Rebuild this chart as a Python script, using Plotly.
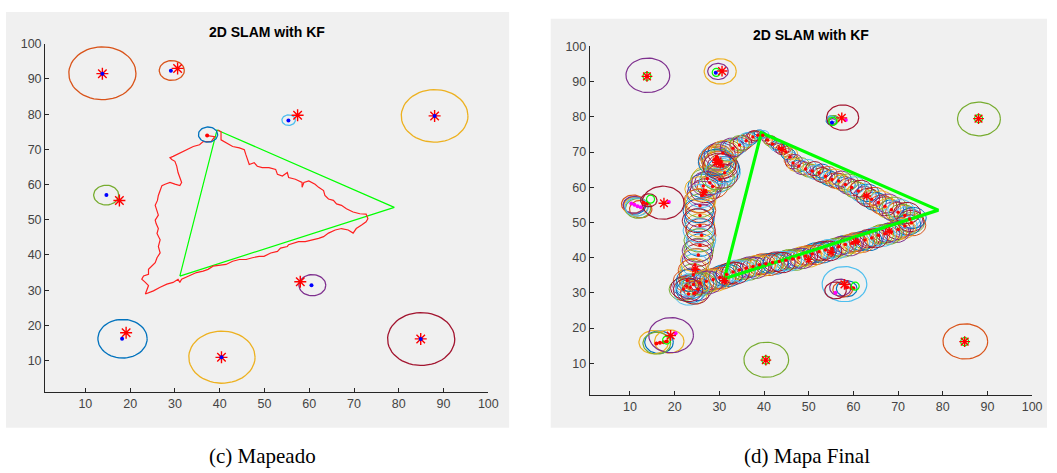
import numpy as np
import plotly.graph_objects as go

# ---------------- data ----------------
ticks = [10, 20, 30, 40, 50, 60, 70, 80, 90, 100]

# true trajectory (triangle)
tri_x = [31.1, 39.4, 79.0, 31.1]
tri_y = [34.0, 75.5, 53.5, 34.0]

# true landmarks (red asterisks)
lm_x = [13.8, 30.6, 57.4, 88.0, 17.6, 58.0, 19.1, 40.4, 84.9]
lm_y = [91.5, 93.0, 79.7, 79.5, 55.45, 32.4, 17.9, 10.9, 16.15]

# ---- panel (c) Mapeado ----
est_x = [13.8, 29.1, 55.35, 88.0, 14.7, 60.5, 18.2, 40.4, 84.9]
est_y = [91.5, 92.3, 78.2, 79.5, 57.0, 31.4, 16.2, 10.9, 16.15]

ellc_x = [37.4, 13.8, 29.3, 55.4, 88.0, 14.65, 60.7, 18.3, 40.5, 85.0]
ellc_y = [74.2, 91.6, 92.4, 78.3, 79.5, 57.0, 31.4, 16.2, 10.95, 16.1]
ellc_r = [2.15, 7.5, 2.8, 1.5, 7.45, 2.8, 3.0, 5.5, 7.4, 7.5]
ellc_c = ['blue', 'orange', 'orange', 'lightblue', 'yellow', 'green', 'purple', 'blue', 'yellow', 'darkred']

robot_x = [37.2]
robot_y = [73.9]

pathc_x = [39.6, 40.3, 40.3, 41.4, 42.9, 44.4, 45.5, 45.85, 46.2, 46.6, 47.7, 48.4, 49.5, 51.0, 52.5,
           52.9, 54.0, 55.1, 55.4, 56.9, 58.4, 58.4, 58.8, 59.9, 61.3, 62.1, 63.2, 63.5, 64.3, 65.4,
           66.1, 67.2, 68.3, 69.8, 71.3, 72.7, 73.1,
           72.7, 71.7, 70.5, 69.8, 68.7, 67.2, 65.8, 64.3, 63.2, 62.1, 60.6, 59.1, 57.6, 56.5, 55.4,
           55.1, 53.6, 52.9, 51.4, 49.9, 48.8, 47.3, 45.9, 44.4, 42.9, 41.4, 40.0, 38.5, 37.4, 36.3,
           34.8, 33.0, 31.5, 31.1, 30.7, 29.6, 28.2, 26.7, 25.2, 23.4,
           23.7, 24.1, 23.4, 22.6, 23.0, 24.1, 24.1, 24.8, 25.6, 26.0, 26.7, 26.3, 26.7, 26.0, 26.3,
           25.8, 25.6, 26.3, 26.0, 25.6, 26.1, 26.3, 26.7, 27.1, 27.8, 28.9, 30.0, 31.1, 31.5, 31.1,
           30.7, 30.4, 30.0, 29.3, 28.9, 29.6, 31.1, 32.6, 34.1, 35.5, 36.3, 38.1, 38.9, 37.2]
pathc_y = [75.5, 75.0, 72.7, 71.8, 70.8, 70.4, 69.9, 68.5, 67.1, 65.7, 66.2, 65.2, 64.8, 64.8, 64.3,
           62.9, 62.4, 63.4, 62.0, 61.5, 60.6, 59.2, 60.6, 61.05, 60.1, 59.2, 58.3, 56.9, 55.9, 55.5,
           54.5, 54.1, 53.1, 52.2, 51.7, 51.6, 50.3,
           49.4, 48.5, 47.5, 46.2, 47.1, 47.5, 47.1, 46.2, 45.2, 44.7, 44.3, 43.8, 43.8, 43.4, 42.9,
           42.4, 41.95, 41.0, 40.55, 39.6, 39.6, 39.2, 38.7, 38.7, 38.2, 37.3, 37.0, 36.8, 35.9, 35.4,
           35.0, 34.0, 33.1, 32.2, 33.1, 32.2, 31.7, 30.8, 29.8, 28.9,
           29.8, 31.3, 32.2, 33.1, 34.0, 34.5, 35.9, 36.8, 37.8, 39.2, 40.6, 42.4, 44.3, 46.1, 47.5,
           48.9, 49.9, 51.3, 52.7, 54.1, 55.5, 56.9, 58.3, 59.7, 60.1, 60.6, 60.1, 59.7, 60.6, 62.0,
           63.4, 65.25, 66.6, 67.1, 67.6, 68.0, 69.0, 69.9, 70.8, 71.3, 72.2, 72.2, 73.6, 73.9]

# ---- panel (d) Mapa Final ----
# robot pose covariance ellipses along the estimated path (pass 1)
pathd_x = [39.7, 40.8, 41.9, 43.4, 44.9, 45.8, 46.5, 47.8, 49.3, 50.8, 52.3, 53.75, 55.2, 56.7, 58.2,
           59.65, 61.1, 62.6, 64.1, 65.6, 67.05, 68.5, 70.0, 71.5, 72.6, 73.0,
           71.5, 70.0, 68.5, 67.05, 65.6, 64.1, 62.6, 61.1, 59.65, 58.2, 56.7, 55.2, 53.75, 52.3, 50.8,
           49.3, 47.8, 46.4, 44.9, 43.4, 41.9, 40.4, 38.97, 37.5, 36.0, 34.5, 33.05, 31.6, 30.1, 28.6,
           27.1, 25.66, 24.2, 22.7, 21.97, 23.1, 24.55, 23.5, 22.8, 24.3, 25.2,
           24.18, 24.55, 25.29, 25.66, 26.03, 25.66, 25.66, 25.66, 26.03, 26.9, 26.4, 28.5, 27.3, 27.88,
           30.1, 31.2, 30.8, 29.7, 28.8, 29.9, 29.2, 30.3, 29.4, 30.8, 33.05, 34.5, 36.0, 37.5, 38.6]
pathd_y = [74.8, 73.4, 72.3, 71.1, 70.1, 68.6, 66.9, 66.0, 65.2, 64.6, 64.1, 63.15, 62.2, 61.75, 60.8,
           59.9, 58.95, 57.7, 56.6, 55.7, 54.6, 53.6, 52.9, 52.0, 51.0, 49.9,
           49.0, 48.0, 47.3, 46.8, 46.4, 45.6, 45.0, 44.5, 44.1, 43.75, 43.1, 42.6, 42.2, 41.7, 41.05,
           40.5, 40.0, 39.6, 39.3, 38.9, 38.6, 38.3, 37.97, 37.5, 37.0, 36.5, 35.9, 35.2, 34.4, 33.8,
           33.3, 32.8, 32.4, 31.9, 31.0, 29.7, 30.0, 31.5, 33.5, 29.8, 31.0,
           35.17, 37.96, 40.76, 43.56, 46.36, 49.16, 51.96, 54.76, 57.55, 59.0, 60.35, 60.2, 62.5, 61.29,
           62.2, 64.1, 66.0, 67.3, 67.8, 66.6, 68.2, 67.2, 68.7, 69.7, 71.1, 72.0, 73.2, 74.3, 74.8]
pathd_r = [0.9, 1.1, 1.2, 1.4, 1.5, 1.5, 1.7, 1.7, 1.8, 1.9, 2.0, 2.1, 2.1, 2.2, 2.2,
           2.3, 2.4, 2.5, 2.5, 2.6, 2.7, 2.8, 2.8, 2.9, 2.9, 2.9,
           2.8, 2.8, 2.7, 2.7, 2.6, 2.6, 2.6, 2.6, 2.6, 2.6, 2.6, 2.6, 2.6, 2.6, 2.7,
           2.7, 2.7, 2.7, 2.7, 2.7, 2.7, 2.7, 2.8, 2.8, 2.8, 2.8, 2.9, 2.9, 3.0, 3.0,
           3.0, 3.1, 3.1, 3.1, 3.2, 3.2, 3.2, 3.2, 3.1, 3.0, 3.2,
           3.1, 3.1, 3.2, 3.2, 3.2, 3.3, 3.3, 3.3, 3.3, 3.4, 3.4, 3.4, 3.5, 3.4,
           3.4, 3.5, 3.5, 3.6, 3.5, 3.7, 3.4, 3.6, 3.6, 3.4, 2.5, 2.2, 2.0, 1.6, 1.2]

# pass 2 (in-between time steps)
pathd2_x = [40.2, 41.3, 42.6, 44.1, 45.4, 46.2, 47.1, 48.5, 50.0, 51.5, 53.0, 54.5, 56.0, 57.4, 58.9,
            60.4, 61.8, 63.3, 64.8, 66.3, 67.8, 69.2, 70.8, 72.0, 72.8,
            72.2, 70.7, 69.2, 67.7, 66.3, 64.8, 63.3, 61.8, 60.4, 58.9, 57.4, 55.9, 54.5, 53.0, 51.5,
            50.0, 48.5, 47.1, 45.6, 44.1, 42.6, 41.1, 39.7, 38.2, 36.7, 35.2, 33.8, 32.3, 30.8, 29.3,
            27.8, 26.4, 24.9, 23.4, 22.3, 23.7,
            24.0, 24.4, 24.9, 25.4, 25.9, 25.8, 25.5, 25.8, 25.8, 26.2, 27.0, 29.0, 30.6, 31.0, 30.2,
            29.6, 30.1, 31.9, 33.8, 35.2, 36.8, 38.1]
pathd2_y = [74.1, 72.9, 71.6, 70.7, 69.4, 67.7, 66.3, 65.5, 64.8, 64.2, 63.5, 62.6, 61.9, 61.3, 60.3,
            59.3, 58.3, 57.1, 56.0, 55.1, 54.0, 53.1, 52.3, 51.4, 50.4,
            49.3, 48.6, 47.5, 47.0, 46.7, 45.9, 45.4, 44.7, 44.4, 43.8, 43.5, 42.8, 42.5, 41.9, 41.4,
            40.7, 40.3, 39.7, 39.5, 39.0, 38.8, 38.4, 38.2, 37.7, 37.3, 36.7, 36.3, 35.5, 34.9, 34.1,
            33.5, 33.1, 32.5, 32.2, 31.4, 30.6,
            34.0, 36.6, 39.4, 42.2, 45.0, 47.8, 50.6, 53.4, 56.2, 58.3, 61.8, 61.7, 63.2, 65.1, 66.7,
            68.0, 69.2, 70.4, 71.6, 72.6, 73.8, 74.6]
pathd2_r = [1.0, 1.2, 1.3, 1.5, 1.6, 1.7, 1.8, 1.9, 1.9, 2.0, 2.1, 2.1, 2.2, 2.2, 2.3,
            2.4, 2.5, 2.6, 2.6, 2.7, 2.8, 2.8, 2.9, 3.0, 3.0,
            2.9, 2.8, 2.8, 2.7, 2.7, 2.7, 2.6, 2.7, 2.7, 2.7, 2.6, 2.7, 2.7, 2.7, 2.8,
            2.8, 2.8, 2.8, 2.8, 2.8, 2.8, 2.8, 2.9, 2.9, 2.9, 2.9, 3.0, 3.0, 3.0, 3.0,
            3.1, 3.1, 3.1, 3.2, 3.2, 3.3,
            3.1, 3.2, 3.2, 3.3, 3.3, 3.3, 3.3, 3.4, 3.4, 3.4, 3.5, 3.5, 3.5, 3.6, 3.6,
            3.7, 3.5, 3.0, 2.4, 2.1, 1.8, 1.4]

# pass 3 (slightly displaced estimates)
pathd3_x = [40.0, 41.6, 43.0, 44.6, 45.9, 46.9, 48.3, 49.8, 51.3, 52.9, 54.3, 55.8, 57.3, 58.8, 60.3,
            61.7, 63.2, 64.7, 66.2, 67.7, 69.2, 70.6, 72.0, 73.3,
            73.2, 71.0, 69.6, 68.0, 66.6, 65.0, 63.6, 62.0, 60.6, 59.2, 57.6, 56.2, 54.6, 53.1, 51.6,
            50.1, 48.6, 47.1, 45.6, 44.1, 42.6, 41.1, 39.6, 38.1, 36.6, 35.1, 33.6, 32.1, 30.6, 29.1,
            27.6, 26.1, 24.6, 23.0,
            23.6, 24.0, 24.6, 25.0, 25.4, 25.3, 25.1, 25.3, 25.5, 25.8, 27.2, 29.5, 30.5, 30.0, 29.0,
            29.6, 31.2, 32.9, 34.6, 36.2, 37.8, 39.0]
pathd3_y = [75.0, 73.3, 72.0, 71.0, 69.6, 67.6, 66.6, 66.0, 65.3, 64.6, 63.8, 63.0, 62.4, 61.5, 60.6,
            59.6, 58.4, 57.4, 56.4, 55.4, 54.4, 53.6, 52.7, 51.3,
            49.2, 48.2, 47.2, 46.6, 46.0, 45.5, 44.8, 44.3, 43.8, 43.3, 42.9, 42.3, 41.9, 41.4, 40.8,
            40.2, 39.8, 39.3, 39.0, 38.6, 38.2, 37.9, 37.6, 37.1, 36.6, 36.1, 35.6, 34.9, 34.2, 33.5,
            33.0, 32.5, 31.9, 30.8,
            33.6, 36.4, 39.2, 42.0, 44.9, 47.7, 50.5, 53.3, 56.1, 59.5, 61.0, 62.9, 64.6, 66.0, 67.0,
            68.5, 70.2, 71.3, 72.5, 73.6, 74.6, 75.1]
pathd3_r = [1.1, 1.3, 1.4, 1.5, 1.6, 1.7, 1.8, 1.9, 2.0, 2.0, 2.1, 2.2, 2.2, 2.3, 2.4,
            2.4, 2.5, 2.6, 2.6, 2.7, 2.8, 2.9, 3.0, 3.0,
            3.0, 2.9, 2.9, 2.8, 2.8, 2.7, 2.8, 2.8, 2.7, 2.8, 2.8, 2.7, 2.8, 2.9, 2.8,
            2.9, 2.9, 2.9, 2.8, 2.9, 2.9, 3.0, 2.9, 3.0, 3.0, 3.0, 3.1, 3.1, 3.1, 3.1,
            3.2, 3.2, 3.2, 3.3,
            3.2, 3.2, 3.3, 3.3, 3.3, 3.4, 3.4, 3.4, 3.4, 3.5, 3.5, 3.6, 3.6, 3.7, 3.7,
            3.6, 3.1, 2.7, 2.2, 1.9, 1.5, 1.2]

# landmark covariance ellipses in the final map
elld_x = [14.0, 30.2, 29.7, 57.6, 55.2, 55.4, 55.6, 55.3, 55.0, 88.1, 17.4, 14.2,
          10.7, 11.0, 11.3, 11.8, 10.9, 11.5, 12.4,
          19.2, 15.3, 16.5, 18.8, 16.0, 58.0, 56.0, 57.1, 58.5, 57.6, 40.5, 85.05]
elld_y = [91.8, 92.9, 92.9, 79.8, 79.0, 78.8, 79.2, 78.6, 79.2, 79.4, 55.6, 56.3,
          55.2, 54.8, 54.5, 54.0, 55.0, 54.4, 53.8,
          18.0, 16.0, 16.0, 16.2, 15.7, 32.5, 30.7, 31.5, 31.2, 31.0, 11.0, 16.2]
elld_r = [4.9, 3.6, 2.3, 3.6, 1.3, 1.1, 1.2, 0.9, 1.0, 4.8, 4.7, 1.85,
          2.6, 2.5, 2.7, 2.8, 2.4, 2.6, 2.5,
          5.0, 3.3, 3.2, 3.3, 3.1, 5.0, 2.4, 2.4, 2.3, 2.2, 5.0, 5.0]
elld_c = ['purple', 'yellow', 'purple', 'darkred', 'blue', 'yellow', 'green', 'purple', 'lightblue', 'green',
          'darkred', 'darkred',
          'orange', 'blue', 'yellow', 'green', 'purple', 'lightblue', 'orange',
          'purple', 'yellow', 'blue', 'yellow', 'green', 'lightblue', 'darkred', 'purple', 'blue', 'orange',
          'green', 'orange']

green_o_x = [13.8, 29.3, 55.4, 88.0, 14.6, 18.2, 60.4, 40.4, 84.9]
green_o_y = [91.5, 92.6, 78.7, 79.5, 56.6, 16.6, 31.9, 10.9, 16.15]

estd_x = [29.2, 55.2]
estd_y = [92.5, 78.4]

magenta_x = [10.3, 11.0, 11.7, 12.4, 18.7, 20.2, 56.0, 58.3]
magenta_y = [55.4, 55.0, 54.6, 54.3, 55.8, 18.5, 30.0, 79.1]

reddot_x = [13.0, 13.8, 15.9, 16.7, 17.5, 18.2, 58.6, 59.5, 60.0]
reddot_y = [55.6, 55.3, 15.6, 15.8, 16.0, 16.2, 31.6, 31.4, 31.3]

redstar_d_x = [29.3, 29.8, 30.2, 24.6, 31.1, 55.0, 50.0, 60.5, 44.0, 26.5, 63.0, 68.0]
redstar_d_y = [67.0, 67.6, 66.5, 36.7, 33.5, 41.5, 39.5, 44.5, 70.8, 58.5, 57.5, 47.5]

# ---------------- style ----------------
COL = {'blue': '#0072BD', 'orange': '#D95319', 'yellow': '#EDB120', 'purple': '#7E2F8E',
       'green': '#77AC30', 'lightblue': '#4DBEEE', 'darkred': '#A2142F'}
ORDER = ['blue', 'orange', 'yellow', 'purple', 'green', 'lightblue', 'darkred']
W, H = 1057, 473
TXT = 'Liberation Sans, Arial, sans-serif'


def ring_xy(cx, cy, r, n=56):
    t = np.linspace(0, 2 * np.pi, n)
    xs, ys = [], []
    for a, b, c in zip(cx, cy, r):
        xs += list(a + c * np.cos(t)) + [None]
        ys += list(b + c * np.sin(t)) + [None]
    return xs, ys


fig = go.Figure()


def add_rings(cx, cy, r, colors, xa, ya, width=1.0):
    for cname in ORDER:
        idx = [i for i, c in enumerate(colors) if c == cname]
        if not idx:
            continue
        xs, ys = ring_xy([cx[i] for i in idx], [cy[i] for i in idx], [r[i] for i in idx])
        fig.add_trace(go.Scatter(x=xs, y=ys, mode='lines', xaxis=xa, yaxis=ya,
                                 line=dict(color=COL[cname], width=width), hoverinfo='skip'))


def star(x, y, xa, ya, size):
    fig.add_trace(go.Scatter(x=x, y=y, mode='markers', xaxis=xa, yaxis=ya,
                             marker=dict(symbol='asterisk-open', size=size, color='#FF0000',
                                         line=dict(color='#FF0000', width=1.4))))


def dots(x, y, xa, ya, color, size=4):
    fig.add_trace(go.Scatter(x=x, y=y, mode='markers', xaxis=xa, yaxis=ya,
                             marker=dict(symbol='circle', size=size, color=color, line=dict(width=0))))


# ---- panel (c) ----
fig.add_trace(go.Scatter(x=tri_x, y=tri_y, mode='lines', line=dict(color='#00FF00', width=1.2),
                         xaxis='x', yaxis='y'))
fig.add_trace(go.Scatter(x=pathc_x, y=pathc_y, mode='lines', line=dict(color='#FF2020', width=1.2),
                         xaxis='x', yaxis='y'))
add_rings(ellc_x, ellc_y, ellc_r, ellc_c, 'x', 'y', 1.3)
star(lm_x, lm_y, 'x', 'y', 10)
dots(est_x, est_y, 'x', 'y', '#0000FF')
dots(robot_x, robot_y, 'x', 'y', '#FF0000')

# ---- panel (d) ----
pcol = [ORDER[i % 7] for i in range(len(pathd_x))]
pcol2 = [ORDER[(i + 3) % 7] for i in range(len(pathd2_x))]
pcol3 = [ORDER[(i + 5) % 7] for i in range(len(pathd3_x))]
add_rings(pathd_x, pathd_y, pathd_r, pcol, 'x2', 'y2', 1.0)
add_rings(pathd2_x, pathd2_y, pathd2_r, pcol2, 'x2', 'y2', 1.0)
add_rings(pathd3_x, pathd3_y, pathd3_r, pcol3, 'x2', 'y2', 1.0)
add_rings(elld_x, elld_y, elld_r, elld_c, 'x2', 'y2', 1.2)
fig.add_trace(go.Scatter(x=tri_x, y=tri_y, mode='lines', line=dict(color='#00FF00', width=3.2),
                         xaxis='x2', yaxis='y2'))
dots(pathd_x, pathd_y, 'x2', 'y2', '#FF0000', 3.5)
star(redstar_d_x, redstar_d_y, 'x2', 'y2', 7)
dots(reddot_x, reddot_y, 'x2', 'y2', '#FF0000')
dots(magenta_x, magenta_y, 'x2', 'y2', '#FF00FF')
fig.add_trace(go.Scatter(x=green_o_x, y=green_o_y, mode='markers', xaxis='x2', yaxis='y2',
                         marker=dict(symbol='circle-open', size=8, color='#00FF00',
                                     line=dict(color='#00FF00', width=1.2))))
dots(estd_x, estd_y, 'x2', 'y2', '#0000FF')
star(lm_x, lm_y, 'x2', 'y2', 9)

axis_common = dict(range=[1, 100], tickvals=ticks, ticktext=[str(t) for t in ticks],
                   ticks='inside', ticklen=4, tickcolor='#262626', showline=True,
                   linecolor='#262626', linewidth=1, showgrid=False, zeroline=False,
                   tickfont=dict(family=TXT, size=12.5, color='#444444'),
                   fixedrange=True)

fig.update_layout(
    width=W, height=H, margin=dict(l=0, r=0, t=0, b=0),
    paper_bgcolor='white', plot_bgcolor='white', showlegend=False,
    xaxis=dict(domain=[45.5 / W, 493 / W], anchor='y', **axis_common),
    yaxis=dict(domain=[1 - 391 / H, 1 - 37.3 / H], anchor='x', **axis_common),
    xaxis2=dict(domain=[595.4 / W, 1042 / W], anchor='y2', **axis_common),
    yaxis2=dict(domain=[1 - 393.8 / H, 1 - 40 / H], anchor='x2', **axis_common),
    shapes=[
        dict(type='rect', xref='paper', yref='paper', x0=6 / W, x1=514 / W, y0=1 - 427 / H, y1=1 - 5 / H,
             fillcolor='#F0F0F0', line=dict(width=0), layer='below'),
        dict(type='rect', xref='paper', yref='paper', x0=556 / W, x1=1.0, y0=1 - 427 / H, y1=1 - 12 / H,
             fillcolor='#F0F0F0', line=dict(width=0), layer='below'),
    ],
    annotations=[
        dict(text='<b>2D SLAM with KF</b>', xref='paper', yref='paper', x=269.25 / W, y=1 - 25 / H,
             showarrow=False, xanchor='center', yanchor='middle',
             font=dict(family=TXT, size=14, color='#000000')),
        dict(text='<b>2D SLAM with KF</b>', xref='paper', yref='paper', x=819 / W, y=1 - 28.3 / H,
             showarrow=False, xanchor='center', yanchor='middle',
             font=dict(family=TXT, size=14, color='#000000')),
        dict(text='(c) Mapeado', xref='paper', yref='paper', x=265 / W, y=1 - 456 / H,
             showarrow=False, xanchor='center', yanchor='middle',
             font=dict(family='Liberation Serif, Times New Roman, serif', size=21, color='#000000')),
        dict(text='(d) Mapa Final', xref='paper', yref='paper', x=815 / W, y=1 - 456 / H,
             showarrow=False, xanchor='center', yanchor='middle',
             font=dict(family='Liberation Serif, Times New Roman, serif', size=21, color='#000000')),
    ],
)

fig.write_html('out.html', config={'displayModeBar': False},
               post_script="document.body.style.margin='0';document.body.style.padding='0';")
